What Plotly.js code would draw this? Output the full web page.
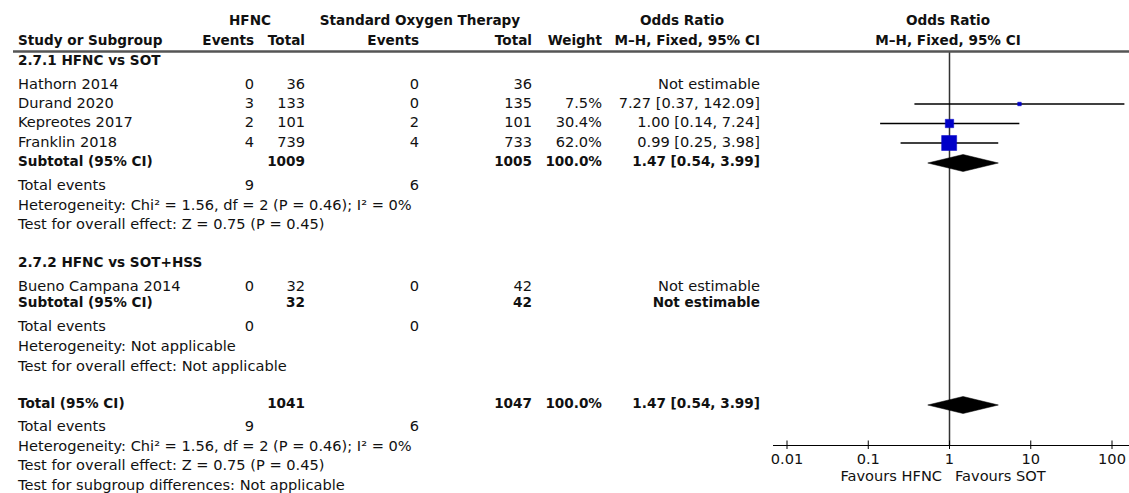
<!DOCTYPE html>
<html>
<head>
<meta charset="utf-8">
<script src="https://cdn.plot.ly/plotly-3.0.1.min.js"></script>
<style>html,body{margin:0;padding:0;background:#fff;}#chart{width:1129px;height:493px;}</style>
</head>
<body>
<div id="chart"></div>
<script>
// ---------------- DATA ----------------
const groupLabels = ['2.7.1 HFNC vs SOT', '2.7.2 HFNC vs SOT+HSS'];

const studies1 = ['Hathorn 2014', 'Durand 2020', 'Kepreotes 2017', 'Franklin 2018'];
const hfncEvents1 = [0, 3, 2, 4];
const hfncTotal1 = [36, 133, 101, 739];
const sotEvents1 = [0, 0, 2, 4];
const sotTotal1 = [36, 135, 101, 733];
const weight1 = [null, 7.5, 30.4, 62.0];
const or1 = [null, 7.27, 1.00, 0.99];
const lo1 = [null, 0.37, 0.14, 0.25];
const hi1 = [null, 142.09, 7.24, 3.98];

const sub1 = {hfncTotal: 1009, sotTotal: 1005, weight: 100.0, or: 1.47, lo: 0.54, hi: 3.99,
  hfncEvents: 9, sotEvents: 6, chi2: 1.56, df: 2, pHet: 0.46, i2: 0, z: 0.75, p: 0.45};

const studies2 = ['Bueno Campana 2014'];
const hfncEvents2 = [0];
const hfncTotal2 = [32];
const sotEvents2 = [0];
const sotTotal2 = [42];

const sub2 = {hfncTotal: 32, sotTotal: 42, hfncEvents: 0, sotEvents: 0};

const total = {hfncTotal: 1041, sotTotal: 1047, weight: 100.0, or: 1.47, lo: 0.54, hi: 3.99,
  hfncEvents: 9, sotEvents: 6, chi2: 1.56, df: 2, pHet: 0.46, i2: 0, z: 0.75, p: 0.45};

const tickVals = [0.01, 0.1, 1, 10, 100];
const tickText = ['0.01', '0.1', '1', '10', '100'];
const favoursLeft = 'Favours HFNC';
const favoursRight = 'Favours SOT';

// ---------------- LAYOUT POSITIONS (pixels) ----------------
const Y = {
  head1: 22, head2: 42, rule: 51.5,
  g1: 62, s1: [85, 104, 123.5, 143], sub1: 163, ev1: 186, het1: 206, test1: 225,
  g2: 264, s2: [287], sub2: 304, ev2: 327, het2: 347, test2: 367,
  tot: 405, evT: 427, hetT: 447, testT: 466, subgrp: 486, axis: 445
};
const X = {study: 18, he: 254, ht: 305, se: 419, st: 532, w: 602, or: 760,
  hfncHead: 250, sotHead: 420, orHead: 682, plotHead: 948, ruleL: 13, plotL: 772.5, favL: 942, favR: 955};

const W = 1129, H = 493;
const FONT = 'DejaVu Sans';
const FS = 14.6, FSB = 13.6;
const INK = '#111';

// ---------------- helpers ----------------
const f2 = v => v.toFixed(2);
const ciText = (o, l, h) => `${f2(o)} [${f2(l)}, ${f2(h)}]`;
const hetText = s => `Heterogeneity: Chi² = ${f2(s.chi2)}, df = ${s.df} (P = ${f2(s.pHet)}); I² = ${s.i2}%`;
const testText = s => `Test for overall effect: Z = ${f2(s.z)} (P = ${f2(s.p)})`;

const textItems = []; // {x, y, t, pos, bold}
function T(x, y, t, pos, bold) { textItems.push({x, y, t: String(t), pos, bold: !!bold}); }

// headers
T(X.hfncHead, Y.head1, 'HFNC', 'middle center', true);
T(X.sotHead, Y.head1, 'Standard Oxygen Therapy', 'middle center', true);
T(X.orHead, Y.head1, 'Odds Ratio', 'middle center', true);
T(X.plotHead, Y.head1, 'Odds Ratio', 'middle center', true);
T(X.study, Y.head2, 'Study or Subgroup', 'middle right', true);
T(X.he, Y.head2, 'Events', 'middle left', true);
T(X.ht, Y.head2, 'Total', 'middle left', true);
T(X.se, Y.head2, 'Events', 'middle left', true);
T(X.st, Y.head2, 'Total', 'middle left', true);
T(X.w, Y.head2, 'Weight', 'middle left', true);
T(X.or, Y.head2, 'M–H, Fixed, 95% CI', 'middle left', true);
T(X.plotHead, Y.head2, 'M–H, Fixed, 95% CI', 'middle center', true);

// group 1
T(X.study, Y.g1, groupLabels[0], 'middle right', true);
studies1.forEach((s, i) => {
  const y = Y.s1[i];
  T(X.study, y, s, 'middle right');
  T(X.he, y, hfncEvents1[i], 'middle left');
  T(X.ht, y, hfncTotal1[i], 'middle left');
  T(X.se, y, sotEvents1[i], 'middle left');
  T(X.st, y, sotTotal1[i], 'middle left');
  if (weight1[i] != null) T(X.w, y, weight1[i].toFixed(1) + '%', 'middle left');
  T(X.or, y, or1[i] == null ? 'Not estimable' : ciText(or1[i], lo1[i], hi1[i]), 'middle left');
});
T(X.study, Y.sub1, 'Subtotal (95% CI)', 'middle right', true);
T(X.ht, Y.sub1, sub1.hfncTotal, 'middle left', true);
T(X.st, Y.sub1, sub1.sotTotal, 'middle left', true);
T(X.w, Y.sub1, sub1.weight.toFixed(1) + '%', 'middle left', true);
T(X.or, Y.sub1, ciText(sub1.or, sub1.lo, sub1.hi), 'middle left', true);
T(X.study, Y.ev1, 'Total events', 'middle right');
T(X.he, Y.ev1, sub1.hfncEvents, 'middle left');
T(X.se, Y.ev1, sub1.sotEvents, 'middle left');
T(X.study, Y.het1, hetText(sub1), 'middle right');
T(X.study, Y.test1, testText(sub1), 'middle right');

// group 2
T(X.study, Y.g2, groupLabels[1], 'middle right', true);
studies2.forEach((s, i) => {
  const y = Y.s2[i];
  T(X.study, y, s, 'middle right');
  T(X.he, y, hfncEvents2[i], 'middle left');
  T(X.ht, y, hfncTotal2[i], 'middle left');
  T(X.se, y, sotEvents2[i], 'middle left');
  T(X.st, y, sotTotal2[i], 'middle left');
  T(X.or, y, 'Not estimable', 'middle left');
});
T(X.study, Y.sub2, 'Subtotal (95% CI)', 'middle right', true);
T(X.ht, Y.sub2, sub2.hfncTotal, 'middle left', true);
T(X.st, Y.sub2, sub2.sotTotal, 'middle left', true);
T(X.or, Y.sub2, 'Not estimable', 'middle left', true);
T(X.study, Y.ev2, 'Total events', 'middle right');
T(X.he, Y.ev2, sub2.hfncEvents, 'middle left');
T(X.se, Y.ev2, sub2.sotEvents, 'middle left');
T(X.study, Y.het2, 'Heterogeneity: Not applicable', 'middle right');
T(X.study, Y.test2, 'Test for overall effect: Not applicable', 'middle right');

// total
T(X.study, Y.tot, 'Total (95% CI)', 'middle right', true);
T(X.ht, Y.tot, total.hfncTotal, 'middle left', true);
T(X.st, Y.tot, total.sotTotal, 'middle left', true);
T(X.w, Y.tot, total.weight.toFixed(1) + '%', 'middle left', true);
T(X.or, Y.tot, ciText(total.or, total.lo, total.hi), 'middle left', true);
T(X.study, Y.evT, 'Total events', 'middle right');
T(X.he, Y.evT, total.hfncEvents, 'middle left');
T(X.se, Y.evT, total.sotEvents, 'middle left');
T(X.study, Y.hetT, hetText(total), 'middle right');
T(X.study, Y.testT, testText(total), 'middle right');
T(X.study, Y.subgrp, 'Test for subgroup differences: Not applicable', 'middle right');

T(X.favL, 477, favoursLeft, 'middle left');
T(X.favR, 477, favoursRight, 'middle right');

// build text traces grouped by position + weight
const traces = [];

// x = 1 line (drawn first so markers sit on top)
traces.push({type: 'scatter', mode: 'lines', x: [1, 1], y: [Y.rule, Y.axis], xaxis: 'x', yaxis: 'y',
  line: {color: '#333', width: 1.5}, hoverinfo: 'skip', showlegend: false});

const groups = {};
textItems.forEach(it => {
  const k = it.pos + '|' + it.bold;
  (groups[k] = groups[k] || {pos: it.pos, bold: it.bold, x: [], y: [], t: []});
  groups[k].x.push(it.x); groups[k].y.push(it.y); groups[k].t.push(it.t);
});
Object.values(groups).forEach(g => {
  traces.push({
    type: 'scatter', mode: 'text', xaxis: 'x2', yaxis: 'y',
    x: g.x, y: g.y, text: g.t, textposition: g.pos, cliponaxis: false,
    textfont: {family: FONT, size: g.bold ? FSB : FS, color: INK, weight: g.bold ? 'bold' : 'normal'},
    hoverinfo: 'skip', showlegend: false
  });
});

// CI lines
const ciX = [], ciY = [];
studies1.forEach((s, i) => {
  if (or1[i] == null) return;
  ciX.push(lo1[i], hi1[i], null); ciY.push(Y.s1[i], Y.s1[i], null);
});
traces.push({type: 'scatter', mode: 'lines', x: ciX, y: ciY, xaxis: 'x', yaxis: 'y',
  line: {color: '#000', width: 1.3}, hoverinfo: 'skip', showlegend: false});

// squares
const sqX = [], sqY = [], sqS = [];
studies1.forEach((s, i) => {
  if (or1[i] == null) return;
  sqX.push(or1[i]); sqY.push(Y.s1[i]); sqS.push(2 + 0.21 * weight1[i]);
});
traces.push({type: 'scatter', mode: 'markers', x: sqX, y: sqY, xaxis: 'x', yaxis: 'y',
  marker: {symbol: 'square', size: sqS, color: '#0000c8', opacity: 1, line: {width: 0.5, color: '#0000c8'}},
  hoverinfo: 'skip', showlegend: false, cliponaxis: false});

// diamonds
[[sub1, Y.sub1], [total, Y.tot]].forEach(([s, y]) => {
  traces.push({type: 'scatter', mode: 'lines', xaxis: 'x', yaxis: 'y',
    x: [s.lo, s.or, s.hi, s.or, s.lo], y: [y, y - 8.5, y, y + 8.5, y],
    fill: 'toself', fillcolor: '#000', line: {color: '#000', width: 0.5},
    hoverinfo: 'skip', showlegend: false});
});

// crossing tick marks
const tkX = [], tkY = [];
tickVals.forEach(v => { tkX.push(v, v, null); tkY.push(Y.axis - 4.5, Y.axis + 4, null); });
traces.push({type: 'scatter', mode: 'lines', x: tkX, y: tkY, xaxis: 'x', yaxis: 'y',
  line: {color: '#000', width: 1}, hoverinfo: 'skip', showlegend: false});

const pxPerDec = 81.25;
const oneAt = 949.5;
const layout = {
  width: W, height: H,
  margin: {l: 0, r: 0, t: 0, b: 0, pad: 0},
  paper_bgcolor: '#fff', plot_bgcolor: 'rgba(0,0,0,0)',
  showlegend: false,
  font: {family: FONT, size: FS, color: INK},
  xaxis: {
    type: 'log', domain: [X.plotL / W, 1],
    range: [(X.plotL - oneAt) / pxPerDec, (W - oneAt) / pxPerDec],
    anchor: 'free', position: (H - Y.axis) / H,
    showline: true, linecolor: '#000', linewidth: 1,
    ticks: '', tickvals: tickVals, ticktext: tickText,
    tickfont: {family: FONT, size: FS, color: INK},
    ticklabelstandoff: 0,
    showgrid: false, zeroline: false, fixedrange: true
  },
  xaxis2: {domain: [0, 1], range: [0, W], anchor: 'y', visible: false, fixedrange: true},
  yaxis: {domain: [0, 1], range: [H, 0], visible: false, fixedrange: true},
  shapes: [
    {type: 'line', xref: 'x2', yref: 'y', x0: X.ruleL, x1: W, y0: Y.rule, y1: Y.rule,
     line: {color: '#555', width: 2.5}}
  ]
};

Plotly.newPlot('chart', traces, layout, {staticPlot: true, displayModeBar: false});
</script>
</body>
</html>
